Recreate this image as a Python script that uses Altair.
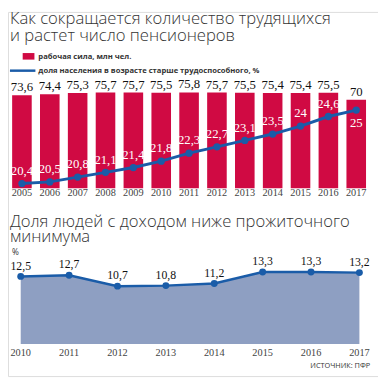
import altair as alt
import pandas as pd

# ---- data ----
years_top = ["2005", "2006", "2007", "2008", "2009", "2010", "2011",
             "2012", "2013", "2014", "2015", "2016", "2017"]
workforce = [73.6, 74.4, 75.3, 75.7, 75.7, 75.5, 75.8,
             75.7, 75.5, 75.4, 75.4, 75.5, 70]
elderly_share = [20.4, 20.5, 20.8, 21.1, 21.4, 21.8, 22.3,
                 22.7, 23.1, 23.5, 24, 24.6, 25]

years_bottom = [2010, 2011, 2012, 2013, 2014, 2015, 2016, 2017]
poverty = [12.5, 12.7, 10.7, 10.8, 11.2, 13.3, 13.3, 13.2]

title_top = ["Как сокращается количество трудящихся", "и растет число пенсионеров"]
title_bottom = ["Доля людей с доходом ниже прожиточного", "минимума"]
legend_bar = "рабочая сила, млн чел."
legend_line = "доля населения в возрасте старше трудоспособного, %"
source = "ИСТОЧНИК: ПФР"


def fmt(v):
    s = ("%g" % v)
    return s.replace(".", ",")


top = pd.DataFrame({
    "year": years_top,
    "workforce": workforce,
    "share": elderly_share,
})
top["wf_label"] = [fmt(v) for v in workforce]
top["sh_label"] = [fmt(v) for v in elderly_share]

bot = pd.DataFrame({"year": years_bottom, "poverty": poverty})
bot["label"] = [fmt(v) for v in poverty]

RED = "#d00a43"
BLUE = "#1a5ca8"
AREA = "#8e9fc2"
NUM_FONT = "Liberation Sans Narrow"
TITLE_FONT = "Open Sans"

xband = alt.Scale(domain=years_top, range=[0, 370], paddingInner=0.3, paddingOuter=0.15)
ybar = alt.Scale(domain=[0, 80], range=[180, 76.8])
yline = alt.Scale(domain=[20, 26], range=[181.8, 84])
xlin = alt.Scale(domain=[2010, 2017], range=[13, 359])
ypov = alt.Scale(domain=[0, 14], range=[339.3, 261.9])

X = alt.X("year:N", scale=xband, axis=None)
base_top = alt.Chart(top)

bars = base_top.mark_bar(color=RED, size=20).encode(
    x=X, y=alt.Y("workforce:Q", scale=ybar, axis=None))
bar_labels = base_top.mark_text(font=NUM_FONT, fontSize=13, color="#111", baseline="bottom", dy=-1).encode(
    x=X, y=alt.Y("workforce:Q", scale=ybar, axis=None), text="wf_label:N")
line_top = base_top.mark_line(color=BLUE, strokeWidth=3).encode(
    x=X, y=alt.Y("share:Q", scale=yline, axis=None))
pts_top = base_top.mark_circle(color=BLUE, size=55, opacity=1).encode(
    x=X, y=alt.Y("share:Q", scale=yline, axis=None))
sh_labels_up = base_top.transform_filter("datum.year != '2017'").mark_text(
    font=NUM_FONT, fontSize=13, color="white", baseline="middle", dy=-13).encode(
    x=X, y=alt.Y("share:Q", scale=yline, axis=None), text="sh_label:N")
sh_labels_down = base_top.transform_filter("datum.year == '2017'").mark_text(
    font=NUM_FONT, fontSize=13, color="white", baseline="middle", dy=13).encode(
    x=X, y=alt.Y("share:Q", scale=yline, axis=None), text="sh_label:N")
year_top_labels = base_top.mark_text(font=NUM_FONT, fontSize=10.5, color="#444", baseline="middle").encode(
    x=X, y=alt.value(185), text="year:N")

XB = alt.X("year:Q", scale=xlin, axis=None)
base_bot = alt.Chart(bot)
area = base_bot.mark_area(color=AREA, opacity=1).encode(
    x=XB, y=alt.Y("poverty:Q", scale=ypov, axis=None))
line_bot = base_bot.mark_line(color=BLUE, strokeWidth=2.5).encode(
    x=XB, y=alt.Y("poverty:Q", scale=ypov, axis=None))
pts_bot = base_bot.mark_circle(color=BLUE, size=50, opacity=1).encode(
    x=XB, y=alt.Y("poverty:Q", scale=ypov, axis=None))
bot_labels = base_bot.mark_text(font=NUM_FONT, fontSize=12, color="#111", baseline="middle", dy=-11).encode(
    x=XB, y=alt.Y("poverty:Q", scale=ypov, axis=None), text="label:N")
year_bot_labels = base_bot.mark_text(font=NUM_FONT, fontSize=10.5, color="#444", baseline="middle").encode(
    x=XB, y=alt.value(348), text=alt.Text("year:Q", format="d"))

one = pd.DataFrame({"k": [0]})


def txt(s, x, y, size, weight="normal", font=TITLE_FONT, color="#222", align="left", baseline="alphabetic"):
    return alt.Chart(one).mark_text(text=s, font=font, fontSize=size, fontWeight=weight,
                                    color=color, align=align, baseline=baseline).encode(
        x=alt.value(x), y=alt.value(y))


TS = 17
t1 = txt(title_top[0], 2, 12.7, TS, weight=300, color="#333")
t2 = txt(title_top[1], 2, 29.3, TS, weight=300, color="#333")
t3 = txt(title_bottom[0], 2, 219.3, TS, weight=300, color="#333")
t4 = txt(title_bottom[1], 2, 235.3, TS, weight=300, color="#333")
lg1 = txt(legend_bar, 31, 46, 7.8, weight="bold", color="#333", baseline="middle")
lg2 = txt(legend_line, 31, 60, 7.8, weight="bold", color="#333", baseline="middle")
pct = txt("%", 4, 245, 8.5, color="#333", baseline="middle")
src = txt(source, 370, 362, 7.5, color="#333", align="right", baseline="middle")

lg_rect = alt.Chart(one).mark_rect(color=RED).encode(
    x=alt.value(15), x2=alt.value(27), y=alt.value(42), y2=alt.value(48.7))
lg_rule = alt.Chart(one).mark_rule(color=BLUE, strokeWidth=2.5).encode(
    x=alt.value(2), x2=alt.value(28), y=alt.value(60))

chart = alt.layer(
    bars, bar_labels, line_top, pts_top, sh_labels_up, sh_labels_down, year_top_labels,
    area, line_bot, pts_bot, bot_labels, year_bot_labels,
    t1, t2, t3, t4, lg1, lg2, pct, src, lg_rect, lg_rule,
).resolve_scale(x="independent", y="independent").properties(
    width=378, height=372, padding=0,
    autosize=alt.AutoSizeParams(type="none"),
).configure_view(stroke=None).configure(background="white")

chart.save("out.html", embed_options={"renderer": "svg", "actions": False})
